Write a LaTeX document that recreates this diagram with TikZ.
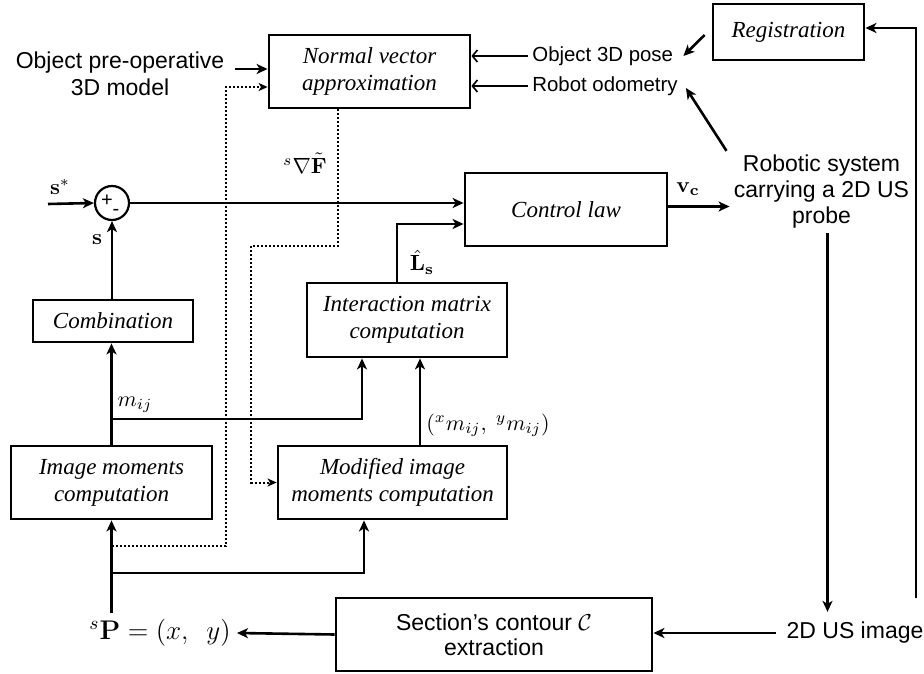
\RequirePackage{fix-cm}
\documentclass[tikz,border=0pt]{standalone}
\usepackage{amsmath,amssymb}
\usepackage[no-math]{fontspec}
\setmainfont{Liberation Serif}
\setsansfont{Liberation Sans}
\usetikzlibrary{arrows.meta}

\newcommand{\figfont}{\fontsize{11.5}{13.5}\selectfont}
\newcommand{\sidefont}{\fontsize{10.2}{12}\selectfont}
\tikzset{
  block/.style={draw,line width=1.4pt,font=\figfont\itshape,align=center,inner sep=0pt},
  lbl/.style={font=\figfont\sffamily,align=center},
  mlbl/.style={font=\fontsize{11}{13}\selectfont,inner sep=2pt},
  arr/.style={-{Stealth[length=5.5pt,width=5pt,inset=1.5pt]},line width=1.3pt},
  thinarr/.style={-{Straight Barb[length=2.5pt,width=6pt]},line width=0.8pt},
  dotarr/.style={-{Stealth[length=4.5pt,width=4pt,inset=1.2pt]},line width=1pt,dash pattern=on 1pt off 1pt},
}

\begin{document}
\begin{tikzpicture}[x=0.5pt,y=-0.5pt]
  \useasboundingbox (0,0) rectangle (924,673);
  % ---------------- blocks
  \node[block,minimum width=100.5pt,minimum height=36.5pt] (nva) at (369.5,71.5) {Normal vector\\approximation};
  \node[block,minimum width=75.5pt,minimum height=28pt] (reg) at (788.5,32) {Registration};
  \node[block,minimum width=101pt,minimum height=36.5pt] (ctrl) at (566,209.5) {Control law};
  \node[block,minimum width=100pt,minimum height=37pt] (inter) at (407,320) {Interaction matrix\\computation};
  \node[block,minimum width=80pt,minimum height=21pt] (comb) at (113,321) {Combination};
  \node[block,minimum width=100.5pt,minimum height=36.5pt] (imc) at (111.5,482.5) {Image moments\\computation};
  \node[block,minimum width=114.5pt,minimum height=36.5pt] (mimc) at (392.5,482.5) {Modified image\\moments computation};
  \node[block,font={\fontsize{11.5}{12.5}\selectfont\sffamily},minimum width=158pt,minimum height=36.5pt] (sect) at (494,634.5) {Section’s contour $\mathcal{C}$\\extraction};
  % ---------------- summing junction
  \node[circle,draw,line width=1.1pt,minimum size=17pt,inner sep=0pt] (sum) at (112,203) {};
  \node[font=\sffamily,inner sep=0pt] (plus) at ([xshift=-2.5pt,yshift=1.2pt]sum.center) {+};
  \node[font=\sffamily,inner sep=0pt] (minus) at ([xshift=2pt,yshift=-4.5pt]sum.center) {-};
  % ---------------- free texts
  \node[lbl] (model) at (120,74) {Object pre-operative\\3D model};
  \node[lbl,font=\sidefont\sffamily,anchor=west,inner sep=2pt] (pose) at (528,56) {Object 3D pose};
  \node[lbl,font=\sidefont\sffamily,anchor=west,inner sep=2pt] (odo) at (528,86) {Robot odometry};
  \node[lbl,font={\fontsize{11.5}{13}\selectfont\sffamily},inner sep=2pt] (robot) at (821.5,192) {Robotic system\\carrying a 2D US\\probe};
  \node[lbl,inner sep=5pt] (usimg) at (855,633) {2D US image};
  \node[mlbl,font=\fontsize{13.5}{15}\selectfont,inner sep=3pt,anchor=east] (sP) at (237,633) {${}^{s}\mathbf{P} = (x,\ \ y)$};
  % ---------------- signal labels
  \node[mlbl] (sstar) at (60,187) {$\mathbf{s}^*$};
  \node[mlbl] (slbl) at (97,240) {$\mathbf{s}$};
  \node[mlbl] (mijlbl) at (135,405) {$m_{ij}$};
  \node[mlbl] (Llbl) at (422,262) {$\hat{\mathbf{L}}_{\mathbf{s}}$};
  \node[mlbl,anchor=west] (xylbl) at (422,425) {$({}^{x}m_{ij},\ {}^{y}m_{ij})$};
  \node[mlbl] (Flbl) at (305,163) {${}^{s}\nabla\tilde{\mathbf{F}}$};
  \node[mlbl] (vlbl) at (688,189) {$\mathbf{v}_{\mathbf{c}}$};
  % ---------------- branch points
  \coordinate (sin) at (48,204);
  \coordinate (mij) at (112,419);
  \coordinate (pbr) at (112,573);
  \coordinate (dotA) at (112,546);
  \coordinate (loop) at (916,598);
  % ---------------- connectors
  \draw[arr] (sin) -- (sum.west);
  \draw[arr] (sum.east) -- (sum.east -| ctrl.west);
  \draw[arr] ([xshift=-5pt]inter.north) |- ([yshift=-7.25pt]ctrl.west);
  \draw[arr] (sum.south |- comb.north) -- (sum.south);
  \draw[arr] (imc.north) -- (imc.north |- comb.south);
  \draw[arr] (mij) -| ([xshift=-22.5pt]inter.south);
  \draw[arr] ([xshift=6.5pt]inter.south |- mimc.north) -- ([xshift=6.5pt]inter.south);
  \draw[arr] (sect.west) -- (sP.east);
  \draw[arr] (imc.south |- 0,613) -- (imc.south);
  \draw[arr] (pbr) -| ([xshift=-14.25pt]mimc.south);
  \draw[dotarr] (dotA) -- ++(114,0) |- ([yshift=-7.75pt]nva.west);
  \draw[dotarr] ([xshift=-15.75pt]nva.south) -- ++(0,137) -- ++(-87,0) |- (mimc.west);
  \draw[arr] ([xshift=2pt,yshift=2.5pt]model.east) -- ([yshift=2.5pt]model.east -| nva.west);
  \draw[thinarr] (pose.west) -- (pose.west -| nva.east);
  \draw[thinarr] (odo.west) -- (odo.west -| nva.east);
  \draw[arr] ([xshift=-3.5pt,yshift=-1.5pt]reg.west) -- ([xshift=3pt]pose.east);
  \draw[arr] ([xshift=-47.5pt]robot.north) -- ([xshift=2pt,yshift=-1pt]odo.east);
  \draw[arr] ([yshift=1.5pt]ctrl.east) -- ([yshift=1.5pt]ctrl.east -| robot.west);
  \draw[arr] ([xshift=3pt]robot.south) -- ([xshift=3pt]robot.south |- usimg.north);
  \draw[arr] (usimg.west) -- (usimg.west -| sect.east);
  \draw[arr] (loop) |- ([yshift=2pt]reg.east);
\end{tikzpicture}
\end{document}
